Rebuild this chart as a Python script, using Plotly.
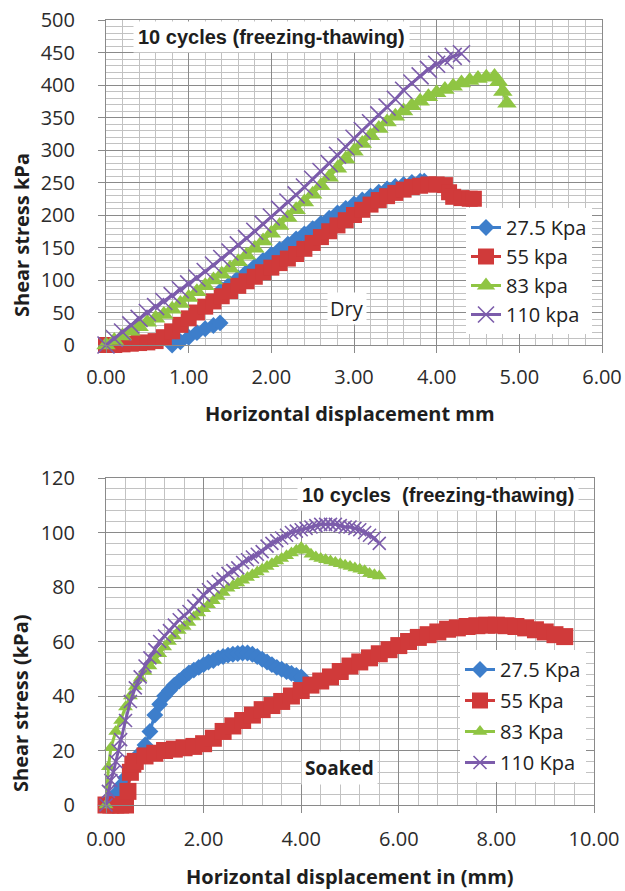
import plotly.graph_objects as go

# ---------------- Dry specimens (10 freeze-thaw cycles) ----------------
dry_disp_275 = [0.80, 0.90, 1.00, 1.10, 1.20, 1.30, 1.38, None,
                1.40, 1.50, 1.60, 1.70, 1.80, 1.90, 2.00, 2.10, 2.20, 2.30, 2.40, 2.50,
                2.60, 2.70, 2.80, 2.90, 3.00, 3.10, 3.20, 3.30, 3.40, 3.50, 3.60, 3.70,
                3.80, 3.85]
dry_stress_275 = [0, 5, 12, 19, 25, 30, 34, None,
                  85, 94, 103, 112, 121, 130, 139, 147, 155, 163, 171, 179,
                  187, 195, 203, 210, 217, 223, 229, 235, 240, 244, 247, 250,
                  252, 252]

dry_disp_55 = [0.0, 0.1, 0.2, 0.3, 0.4, 0.5, 0.6, 0.7, 0.8, 0.9, 1.0, 1.1, 1.2, 1.3,
               1.4, 1.5, 1.6, 1.7, 1.8, 1.9, 2.0, 2.1, 2.2, 2.3, 2.4, 2.5, 2.6, 2.7,
               2.8, 2.9, 3.0, 3.1, 3.2, 3.3, 3.4, 3.5, 3.6, 3.7, 3.8, 3.9, 4.0, 4.1,
               4.15, 4.2, 4.3, 4.4, 4.45]
dry_stress_55 = [0, 0, 1, 2, 3, 4, 6, 12, 21, 31, 41, 50, 59, 67,
                 75, 83, 91, 98, 105, 112, 119, 126, 133, 140, 148, 157, 166, 175,
                 184, 192, 200, 208, 216, 223, 229, 234, 239, 243, 245, 247, 247, 246,
                 235, 228, 226, 225, 225]

dry_disp_83 = [0.0, 0.1, 0.2, 0.3, 0.4, 0.5, 0.6, 0.7, 0.8, 0.9, 1.0, 1.1, 1.2, 1.3,
               1.4, 1.5, 1.6, 1.7, 1.8, 1.9, 2.0, 2.1, 2.2, 2.3, 2.4, 2.5, 2.6, 2.7,
               2.8, 2.9, 3.0, 3.1, 3.2, 3.3, 3.4, 3.5, 3.6, 3.7, 3.8, 3.9, 4.0, 4.1,
               4.2, 4.3, 4.4, 4.5, 4.6, 4.7, 4.75, 4.8, 4.85]
dry_stress_83 = [0, 7, 14, 21, 28, 35, 41, 47, 55, 64, 73, 82, 91, 100,
                 109, 118, 128, 138, 149, 160, 172, 184, 196, 208, 220, 232, 245, 258,
                 272, 286, 298, 310, 322, 333, 343, 352, 360, 368, 375, 382, 388, 393,
                 398, 403, 407, 410, 412, 413, 405, 390, 372]

dry_disp_110 = [0.0, 0.1, 0.2, 0.3, 0.4, 0.5, 0.6, 0.7, 0.8, 0.9, 1.0, 1.1, 1.2, 1.3,
                1.4, 1.5, 1.6, 1.7, 1.8, 1.9, 2.0, 2.1, 2.2, 2.3, 2.4, 2.5, 2.6, 2.7,
                2.8, 2.9, 3.0, 3.1, 3.2, 3.3, 3.4, 3.5, 3.6, 3.7, 3.8, 3.9, 4.0, 4.1,
                4.2, 4.3]
dry_stress_110 = [0, 10, 20, 31, 41, 50, 59, 67, 76, 85, 94, 103, 113, 123,
                  133, 143, 154, 164, 175, 186, 197, 209, 220, 231, 243, 255, 267, 279,
                  292, 305, 318, 330, 342, 354, 366, 378, 392, 403, 414, 424, 432, 438,
                  444, 448]

# ---------------- Soaked specimens (10 freeze-thaw cycles) ----------------
wet_disp_275 = [0.0, 0.1, 0.2, 0.3, 0.4, 0.5, 0.6, 0.7, 0.8, 0.9, 1.0, 1.1, 1.2, 1.3,
                1.4, 1.5, 1.6, 1.7, 1.8, 1.9, 2.0, 2.1, 2.2, 2.3, 2.4, 2.5, 2.6, 2.7,
                2.8, 2.9, 3.0, 3.1, 3.2, 3.3, 3.4, 3.5, 3.6, 3.7, 3.8, 3.9, 4.0]
wet_stress_275 = [0, 2, 4, 7, 10, 13, 16, 19, 22, 27, 33, 37, 40, 42,
                  44, 45.5, 47, 48.5, 49.5, 50.5, 51.5, 52.5, 53, 54, 54.5, 55, 55.3, 55.6,
                  55.8, 55.8, 55.3, 54.5, 53.5, 52.5, 51.5, 50.5, 49.8, 49, 48.3, 47.5, 47]

wet_disp_55 = [0.0, 0.1, 0.2, 0.3, 0.4, 0.45, 0.5, 0.55, 0.6,
               0.8, 1.0, 1.2, 1.4, 1.6, 1.8, 2.0, 2.2, 2.4, 2.6, 2.8, 3.0, 3.2, 3.4,
               3.6, 3.8, 4.0, 4.2, 4.4, 4.6, 4.8, 5.0, 5.2, 5.4, 5.6, 5.8, 6.0, 6.2,
               6.4, 6.6, 6.8, 7.0, 7.2, 7.4, 7.6, 7.8, 8.0, 8.2, 8.4, 8.6, 8.8, 9.0,
               9.2, 9.4]
wet_stress_55 = [0, 0, 0, 0, 0, 5, 12, 15, 16,
                 18, 19, 20, 20.5, 21, 21.5, 22.5, 24.5, 27, 29, 31, 33, 35, 36.5,
                 38, 40, 42, 44, 45.5, 47, 49, 51, 52.5, 54, 55.5, 57, 58.5, 60,
                 61.5, 62.5, 63.5, 64.5, 65, 65.5, 65.8, 66, 66, 65.8, 65.5, 65, 64.3, 63.5,
                 62.5, 61.8]

wet_disp_83 = [0.0, 0.05, 0.1, 0.2, 0.3, 0.4, 0.5, 0.6, 0.7, 0.8, 0.9, 1.0, 1.1, 1.2,
               1.3, 1.4, 1.5, 1.6, 1.7, 1.8, 1.9, 2.0, 2.1, 2.2, 2.3, 2.4, 2.5, 2.6,
               2.7, 2.8, 2.9, 3.0, 3.1, 3.2, 3.3, 3.4, 3.5, 3.6, 3.7, 3.8, 3.9, 4.0,
               4.1, 4.2, 4.3, 4.4, 4.5, 4.6, 4.7, 4.8, 4.9, 5.0, 5.1, 5.2, 5.3, 5.4,
               5.5, 5.6]
wet_stress_83 = [0, 14, 21, 27, 31, 36, 40, 43.5, 46.5, 49, 51, 53, 55.5, 58,
                 60, 62, 64, 65.5, 67, 69, 70.5, 72, 73.5, 75, 76.5, 78, 79.5, 80.5,
                 81.5, 82.5, 83.5, 84.5, 85.5, 86.5, 87.5, 88.5, 89.5, 90.5, 91.5, 92.5, 93.5, 94.5,
                 93.5, 92, 91, 90.5, 90, 89.5, 89, 88.5, 88, 87.5, 87, 86.5, 86, 85,
                 84.5, 84]

wet_disp_110 = [0.0, 0.05, 0.1, 0.15, 0.2, 0.25, 0.3, 0.4, 0.5, 0.6, 0.7, 0.8, 0.9, 1.0,
                1.1, 1.2, 1.3, 1.4, 1.5, 1.6, 1.7, 1.8, 1.9, 2.0, 2.1, 2.2, 2.3, 2.4,
                2.5, 2.6, 2.7, 2.8, 2.9, 3.0, 3.1, 3.2, 3.3, 3.4, 3.5, 3.6, 3.7, 3.8,
                3.9, 4.0, 4.1, 4.2, 4.3, 4.4, 4.5, 4.6, 4.7, 4.8, 4.9, 5.0, 5.1, 5.2,
                5.3, 5.4, 5.5, 5.6]
wet_stress_110 = [0, 5, 9, 12, 16, 20, 24, 31, 38, 43, 47, 51, 54, 57,
                  60, 62, 64, 66, 68, 69.5, 71, 73, 75, 77, 79, 80, 82, 83,
                  85, 86, 87, 89, 90, 91, 92, 93, 95, 96, 97, 98, 99, 100,
                  100.5, 101, 101.5, 102, 102.5, 103, 103, 103, 103, 102.5, 102, 102, 101.5, 101,
                  100, 99, 98, 96]

dry_names = ["27.5 Kpa", "55 kpa", "83 kpa", "110 kpa"]
wet_names = ["27.5 Kpa", "55 Kpa", "83 Kpa", "110 Kpa"]

BLUE, RED, GREEN, PURPLE = "#3D7ECB", "#D03A3A", "#8FC543", "#7C5CAB"

W, H = 625, 891
BODY = "Open Sans"
ARIAL = "Liberation Sans"


def px(xp):
    return xp / W


def py(yp):
    return 1 - yp / H


fig = go.Figure()

top_styles = [
    (dry_disp_275, dry_stress_275, BLUE, "diamond", 13, 0),
    (dry_disp_55, dry_stress_55, RED, "square", 16, 0),
    (dry_disp_83, dry_stress_83, GREEN, "triangle-up", 17, 0),
    (dry_disp_110, dry_stress_110, PURPLE, "x-thin", 17, 1.6),
]
for i, ((xs, ys, col, sym, size, lw), name) in enumerate(zip(top_styles, dry_names)):
    fig.add_trace(go.Scatter(
        x=xs, y=ys, name=name, mode="lines+markers", xaxis="x", yaxis="y",
        legend="legend", legendgroup=f"dry{i}", cliponaxis=False, connectgaps=False,
        line=dict(color=col, width=3),
        marker=dict(symbol=sym, size=size, color=col,
                    line=dict(color=col, width=lw)),
    ))

bottom_styles = [
    (wet_disp_275, wet_stress_275, BLUE, "diamond", 13, 0),
    (wet_disp_55, wet_stress_55, RED, "square", 17, 0),
    (wet_disp_83, wet_stress_83, GREEN, "triangle-up", 13, 0),
    (wet_disp_110, wet_stress_110, PURPLE, "x-thin", 13, 1.6),
]
for i, ((xs, ys, col, sym, size, lw), name) in enumerate(zip(bottom_styles, wet_names)):
    fig.add_trace(go.Scatter(
        x=xs, y=ys, name=name, mode="lines+markers", xaxis="x2", yaxis="y2",
        legend="legend2", legendgroup=f"wet{i}", cliponaxis=False,
        line=dict(color=col, width=3),
        marker=dict(symbol=sym, size=size, color=col,
                    line=dict(color=col, width=lw)),
    ))

GRID_MAJOR = "#8a8a8a"
GRID_MINOR = "#c2c2c2"
tickfont = dict(family=BODY, size=20, color="#2b2b2b")


def axis(domain, rng, dtick, minor, standoff, fmt=None, anchor=None):
    d = dict(domain=domain, range=rng, dtick=dtick, tick0=0, automargin=False,
             showgrid=True, gridcolor=GRID_MAJOR, gridwidth=1,
             minor=dict(dtick=minor, tick0=0, showgrid=True, gridcolor=GRID_MINOR,
                        gridwidth=1, ticks=""),
             showline=True, linecolor=GRID_MAJOR, linewidth=1, mirror=True,
             ticks="outside", ticklen=7, tickcolor=GRID_MAJOR,
             zeroline=False, tickfont=tickfont, anchor=anchor,
             ticklabelstandoff=standoff, fixedrange=True)
    if fmt:
        d["tickformat"] = fmt
    return d


legend_font = dict(family=BODY, size=20, color="#222")
fig.update_layout(
    width=W, height=H,
    margin=dict(l=0, r=0, t=0, b=0, pad=0, autoexpand=False),
    paper_bgcolor="white", plot_bgcolor="white",
    xaxis=axis([px(106), px(602)], [0, 6], 1, 0.2, 7, ".2f", "y"),
    yaxis=axis([py(345), py(20)], [0, 500], 50, 10, 19, None, "x"),
    xaxis2=axis([px(106), px(594)], [0, 10], 2, 0.4, 9, ".2f", "y2"),
    yaxis2=axis([py(805), py(478)], [0, 120], 20, 4, 19, None, "x2"),
    legend=dict(x=px(466), y=py(208), xanchor="left", yanchor="top",
                bgcolor="white", font=legend_font, itemwidth=30, tracegroupgap=0),
    legend2=dict(x=px(460), y=py(650), xanchor="left", yanchor="top",
                 bgcolor="white", font=legend_font, itemwidth=30, tracegroupgap=2),
    showlegend=True,
)

title_font = dict(family=BODY, size=20, color="#1e1e1e")
label_font = dict(family=ARIAL, size=20, color="#1e1e1e")
notes = [
    dict(text="<b>10 cycles (freezing-thawing)</b>", x=px(271), y=py(37), font=label_font,
         bgcolor="white", borderpad=4),
    dict(text="<b>10 cycles  (freezing-thawing)</b>", x=px(438), y=py(495), font=label_font,
         bgcolor="white", borderpad=4),
    dict(text="Dry", x=px(347), y=py(308), font=dict(family=BODY, size=20, color="#1e1e1e"),
         bgcolor="white", borderpad=2),
    dict(text="<b>Soaked</b>", x=px(339), y=py(768), font=dict(family=BODY, size=19, color="#1e1e1e"),
         bgcolor="white", borderpad=3),
    dict(text="<b>Horizontal displacement mm</b>", x=px(350), y=py(413), font=title_font),
    dict(text="<b>Horizontal displacement in (mm)</b>", x=px(350), y=py(876), font=title_font),
    dict(text="<b>Shear stress kPa</b>", x=px(21), y=py(235), font=title_font, textangle=-90),
    dict(text="<b>Shear stress (kPa)</b>", x=px(20), y=py(703), font=title_font, textangle=-90),
]
for n in notes:
    fig.add_annotation(xref="paper", yref="paper", showarrow=False,
                       xanchor="center", yanchor="middle", **n)

fig.write_html("out.html")
